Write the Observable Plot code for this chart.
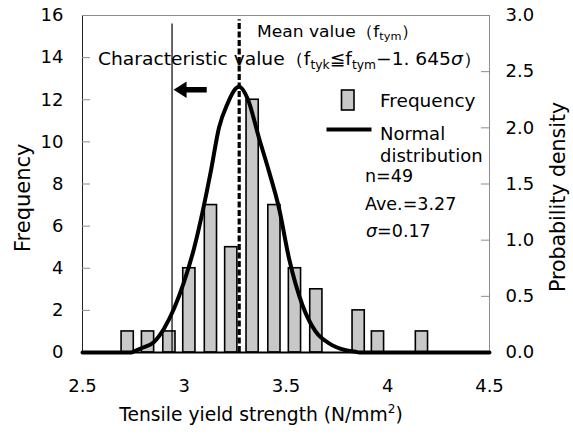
<!DOCTYPE html>
<html><head><meta charset="utf-8">
<script src="https://cdn.jsdelivr.net/npm/d3@7"></script>
<script src="https://cdn.jsdelivr.net/npm/@observablehq/plot@0.6"></script>
<style>
body{margin:0;background:#fff}
svg{font-family:"DejaVu Sans",Verdana,sans-serif}
</style>
</head><body><div id="chart"></div>
<script>
// ---- data ----
const binCenters = [2.722,2.822,2.927,3.025,3.131,3.231,3.336,3.443,3.544,3.649,3.752,3.857,3.952,4.059,4.168];
const frequencies = [1,1,1,4,7,5,12,7,4,3,0,2,1,0,1];
const curveX = [2.5,2.74,2.754,2.786,2.852,2.901,2.950,2.999,3.048,3.090,3.130,3.171,3.213,3.253,3.270,3.311,3.368,3.417,3.466,3.515,3.581,3.646,3.712,3.794,3.843,3.86,4.5];
const curveDensity = [0,0,0.01,0.036,0.095,0.214,0.392,0.629,0.926,1.252,1.608,2.003,2.217,2.350,2.365,2.261,1.905,1.608,1.282,0.837,0.421,0.186,0.081,0.020,0.006,0,0];
const xTicks = [2.5,3,3.5,4,4.5];
const xTickLabels = ["2.5","3","3.5","4","4.5"];
const freqTicks = [0,2,4,6,8,10,12,14,16];
const densityTicks = [0,0.5,1.0,1.5,2.0,2.5,3.0];
const meanValue = 3.27;
const characteristicValue = 2.94;
const arrowFrom = [3.113, 12.45];
const arrowTo = [2.95, 12.45];
const statsLines = ["n=49","Ave.=3.27","=0.17"];

// ---- build ----
const k = 16/3; // density -> frequency units on shared y scale
const bins = binCenters.map((x,i)=>({x, f: frequencies[i]})).filter(d=>d.f>0);
const curve = curveX.map((x,i)=>({x, y: curveDensity[i]*k}));
const hw = 0.03;
const FONT = "DejaVu Sans, Verdana, sans-serif";
const W = 573, ML = 82, MR = 84;
const innerW = W - ML - MR;
const TICK = 8;

const plot = Plot.plot({
  width: W, height: 435,
  marginLeft: ML, marginRight: MR, marginTop: 15, marginBottom: 83,
  x: {domain:[2.5,4.5]},
  y: {domain:[0,16]},
  style: {fontFamily: FONT, fontSize: "18px", color: "#000", background: "#fff", overflow: "visible"},
  marks: [
    Plot.frame({stroke:"#8c8c8c", strokeWidth:1}),
    Plot.ruleX([2.5], {stroke:"#222", strokeWidth:1}),
    Plot.tickY(freqTicks, {y: d=>d, insetRight: innerW - TICK, stroke:"#8c8c8c", strokeWidth:1}),
    Plot.tickY(densityTicks, {y: d=>d*k, insetLeft: innerW - TICK, stroke:"#8c8c8c", strokeWidth:1}),
    Plot.axisX({ticks: xTicks, tickSize: 0, tickPadding: 27, tickFormat: d=>xTickLabels[xTicks.indexOf(d)], label: null, fontSize: 18}),
    Plot.axisY({ticks: freqTicks, tickSize: 0, tickPadding: 19, label: null, fontSize: 18}),
    Plot.axisY({anchor: "right", ticks: densityTicks.map(d=>d*k), tickSize: 0, tickPadding: 16,
      tickFormat: d => (d/k).toFixed(1), label: null, fontSize: 18}),
    Plot.rect(bins, {x1: d=>d.x-hw, x2: d=>d.x+hw, y1: 0, y2: "f", fill:"#c8c8c8", stroke:"#000", strokeWidth:1.6}),
    Plot.ruleY([0], {stroke:"#000", strokeWidth:2}),
    Plot.ruleX([characteristicValue], {y1: 0, y2: 15.6, stroke:"#000", strokeWidth:1.2}),
    Plot.ruleX([meanValue], {y1: 0, y2: 15.8, stroke:"#000", strokeWidth:3.2, strokeDasharray:"6,2.5"}),
    Plot.line(curve, {x:"x", y:"y", stroke:"#000", strokeWidth:4, curve:"monotone-x"})
  ]
});
document.getElementById("chart").appendChild(plot);

const svg = d3.select(plot);
const sx = plot.scale("x"), sy = plot.scale("y");
const g = svg.append("g").attr("font-family", FONT).attr("fill","#000").attr("text-anchor","start");

// arrow
{
  const x1 = sx.apply(arrowFrom[0]), y = sy.apply(arrowFrom[1]);
  const x2 = sx.apply(arrowTo[0]);
  const headLen = 13, headHalf = 8.3;
  g.append("line").attr("x1", x1).attr("x2", x2+headLen-1).attr("y1", y).attr("y2", y)
    .attr("stroke","#000").attr("stroke-width",5.5);
  g.append("path").attr("d", `M${x2},${y}L${x2+headLen},${y-headHalf}L${x2+headLen},${y+headHalf}Z`).attr("fill","#000");
}

// annotation texts with subscripts
function addSubText(x, y, parts, size, totalWidth) {
  const t = g.append("text").attr("x", x).attr("y", y).attr("font-size", size);
  for (const p of parts) {
    const ts = t.append("tspan").text(p.t);
    if (p.sub) ts.attr("font-size", size*0.66).attr("dy", size*0.2);
    else if (p.after) ts.attr("dy", -size*0.2);
    if (p.it) ts.attr("font-style","italic");
  }
  if (totalWidth) t.attr("textLength", totalWidth).attr("lengthAdjust", "spacingAndGlyphs");
  return t;
}
addSubText(257, 37, [{t:"Mean value（f"},{t:"tym",sub:true},{t:"）",after:true}], 16.5, 162);
addSubText(98, 65, [{t:"Characteristic value（f"},{t:"tyk",sub:true},{t:"≦f",after:true},{t:"tym",sub:true},{t:"−1. 645",after:true},{t:"σ",it:true},{t:"）"}], 17.5, 384);

// legend
g.append("rect").attr("x",341.5).attr("y",90).attr("width",12.5).attr("height",20)
  .attr("fill","#c8c8c8").attr("stroke","#000").attr("stroke-width",1.6);
g.append("text").attr("x",380).attr("y",107).attr("font-size",18.5).text("Frequency");
g.append("line").attr("x1",326.5).attr("x2",371.5).attr("y1",129.5).attr("y2",129.5).attr("stroke","#000").attr("stroke-width",4);
g.append("text").attr("x",380).attr("y",140).attr("font-size",18).text("Normal");
g.append("text").attr("x",380).attr("y",162).attr("font-size",18).text("distribution");

// stats
g.append("text").attr("x",365).attr("y",182).attr("font-size",17.5).text(statsLines[0]);
g.append("text").attr("x",365).attr("y",210).attr("font-size",17.5).text(statsLines[1]);
{
  const t = g.append("text").attr("x",366).attr("y",237).attr("font-size",17.5);
  t.append("tspan").attr("font-style","italic").text("σ");
  t.append("tspan").text(statsLines[2]);
}

// axis titles
g.append("text").attr("transform","translate(30,252) rotate(-90)").attr("font-size",21).text("Frequency");
g.append("text").attr("transform","translate(565,292) rotate(-90)").attr("font-size",20.5).text("Probability density");
{
  const t = g.append("text").attr("x",261).attr("y",421).attr("font-size",18.7).attr("text-anchor","middle");
  t.append("tspan").text("Tensile yield strength (N/mm");
  t.append("tspan").attr("font-size",12).attr("dy",-8).text("2");
  t.append("tspan").attr("dy",8).text(")");
}
</script>
</body></html>
